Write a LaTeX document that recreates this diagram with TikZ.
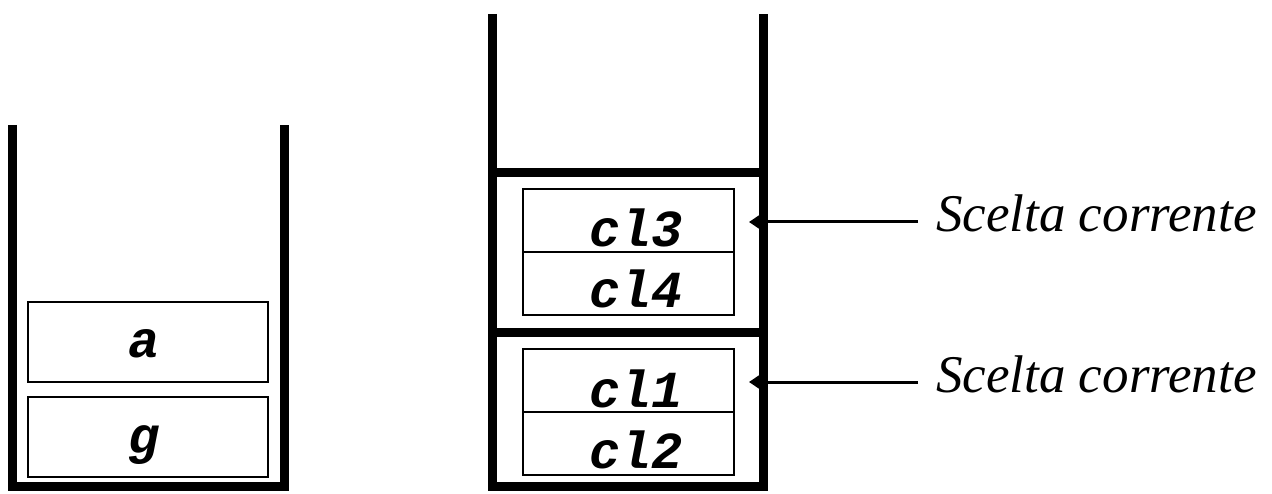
\documentclass[tikz,border=0pt]{standalone}
\usepackage{fontspec}
\setmainfont{Liberation Serif}
\newfontfamily\codefont{Liberation Mono}
\usetikzlibrary{arrows.meta}
\begin{document}
\begin{tikzpicture}[x=1pt,y=-1pt,
  wall/.style={line width=9pt},
  cell/.style={draw,line width=2pt,inner sep=0pt},
  code/.style={font=\codefont\bfseries\itshape\fontsize{52}{58}\selectfont,inner sep=0pt,anchor=base},
  note/.style={font=\itshape\fontsize{53}{60}\selectfont,inner sep=0pt,anchor=base west},
  pointer/.style={line width=3pt,-{Triangle[length=11pt,width=14pt]}}]
\useasboundingbox (0,0) rectangle (1272,494);
% left stack
\draw[wall] (12,125) -- (12,486) -- (284,486) -- (284,125);
\node[cell,minimum width=240pt,minimum height=80pt] (ba) at (148,342) {};
\node[cell,minimum width=240pt,minimum height=80pt] (bg) at (148,437) {};
\node[code] (ta) at (144,358) {a};
\node[code] (tg) at (144,453) {g};
% right stack
\draw[wall] (492,14) -- (492,486) -- (763,486) -- (763,14);
\draw[wall] (492,173) -- (763,173);
\draw[wall] (492,333) -- (763,333);
\node[cell,minimum width=211pt,minimum height=126pt] (top) at (628.5,252) {};
\draw[line width=2pt] (top.west) -- (top.east);
\node[cell,minimum width=211pt,minimum height=126pt] (bot) at (628.5,412) {};
\draw[line width=2pt] (bot.west) -- (bot.east);
\node[code] (c13) at (636,247) {cl3};
\node[code] (c14) at (636,308) {cl4};
\node[code] (c11) at (636,407) {cl1};
\node[code] (c12) at (636,468) {cl2};
% pointers
\coordinate (t1) at (749,222);
\coordinate (f1) at (918,222);
\coordinate (t2) at (749,382);
\coordinate (f2) at (918,382);
\draw[pointer] (f1) -- (t1);
\draw[pointer] (f2) -- (t2);
\node[note] (s1) at (936,232) {Scelta corrente};
\node[note] (s2) at (936,392) {Scelta corrente};
\end{tikzpicture}
\end{document}
